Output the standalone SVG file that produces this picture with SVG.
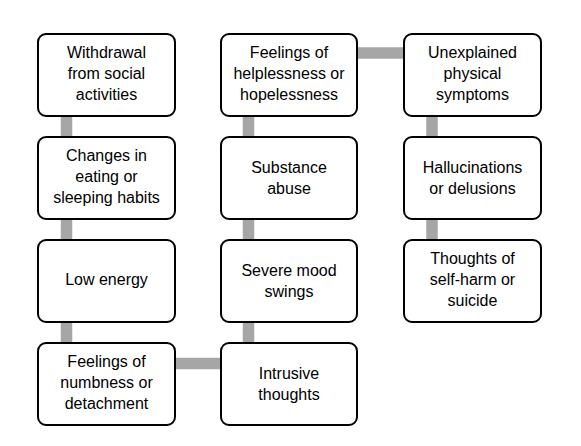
<svg xmlns="http://www.w3.org/2000/svg" width="581" height="446" viewBox="0 0 581 446">
<style>
.n rect{fill:#fff;stroke:#000;stroke-width:2}
.n text{font-family:"Liberation Sans",Arial,sans-serif;font-size:16px;fill:#000;text-anchor:middle}
.c line{stroke:#a6a6a6;stroke-width:11.5;fill:none}
</style>
<rect width="581" height="446" fill="#fff"/>
<g id="connectors" class="c">
<line x1="66.5" y1="75" x2="66.5" y2="384"/>
<line x1="248.5" y1="75" x2="248.5" y2="384"/>
<line x1="432" y1="75" x2="432" y2="281"/>
<line x1="289" y1="53" x2="473" y2="53"/>
<line x1="107" y1="363.5" x2="289" y2="363.5"/>
</g>
<g id="n1" class="n"><rect x="38" y="34" width="137" height="82" rx="8"/><text x="106.5" y="58">Withdrawal</text><text x="106.5" y="79">from social</text><text x="106.5" y="100">activities</text></g>
<g id="n2" class="n"><rect x="38" y="137" width="137" height="82" rx="8"/><text x="106.5" y="161">Changes in</text><text x="106.5" y="182">eating or</text><text x="106.5" y="203">sleeping habits</text></g>
<g id="n3" class="n"><rect x="38" y="240" width="137" height="82" rx="8"/><text x="106.5" y="285">Low energy</text></g>
<g id="n4" class="n"><rect x="38" y="343" width="137" height="82" rx="8"/><text x="106.5" y="367">Feelings of</text><text x="106.5" y="388">numbness or</text><text x="106.5" y="409">detachment</text></g>
<g id="n5" class="n"><rect x="221" y="34" width="136" height="82" rx="8"/><text x="289" y="58">Feelings of</text><text x="289" y="79">helplessness or</text><text x="289" y="100">hopelessness</text></g>
<g id="n6" class="n"><rect x="221" y="137" width="136" height="82" rx="8"/><text x="289" y="172.5">Substance</text><text x="289" y="193.5">abuse</text></g>
<g id="n7" class="n"><rect x="221" y="240" width="136" height="82" rx="8"/><text x="289" y="275.5">Severe mood</text><text x="289" y="296.5">swings</text></g>
<g id="n8" class="n"><rect x="221" y="343" width="136" height="82" rx="8"/><text x="289" y="378.5">Intrusive</text><text x="289" y="399.5">thoughts</text></g>
<g id="n9" class="n"><rect x="404" y="34" width="137" height="82" rx="8"/><text x="472.5" y="58">Unexplained</text><text x="472.5" y="79">physical</text><text x="472.5" y="100">symptoms</text></g>
<g id="n10" class="n"><rect x="404" y="137" width="137" height="82" rx="8"/><text x="472.5" y="172.5">Hallucinations</text><text x="472.5" y="193.5">or delusions</text></g>
<g id="n11" class="n"><rect x="404" y="240" width="137" height="82" rx="8"/><text x="472.5" y="264">Thoughts of</text><text x="472.5" y="285">self-harm or</text><text x="472.5" y="306">suicide</text></g>
</svg>
